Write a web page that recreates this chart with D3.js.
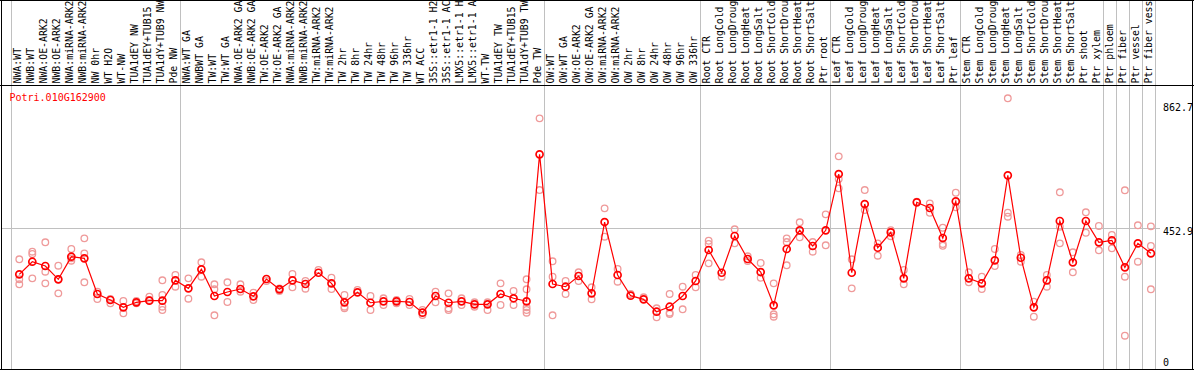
<!DOCTYPE html>
<html>
<head>
  <meta charset="utf-8">
  <title>Potri.010G162900</title>
  <script src="https://d3js.org/d3.v7.min.js"></script>
  <style>
    body { margin: 0; background: #fff; }
    text { font-family: "DejaVu Sans Mono", monospace; font-size: 10px; }
    text.lab { font-size: 9.85px; }
  </style>
</head>
<body>
<div id="vis"></div>
<script>
var gene = "Potri.010G162900";

// sample names as they show in the header (the long ones are cut there)
var samples = [
  "NWA:WT","NWB:WT","NWA:OE-ARK2","NWB:OE-ARK2","NWA:miRNA-ARK2","NWB:miRNA-ARK2","NW 0hr","WT H2O","WT-NW",
  "TUA1dEY NW","TUA1dEY+TUB15","TUA1dY+TUB9 NW","Pde NW",
  "NWA:WT GA","NWBWT GA","TW:WT","TW:WT GA","NWA:OE-ARK2 GA","NWB:OE-ARK2 GA","TW:OE-ARK2","TW:OE-ARK2 GA",
  "NWA:miRNA-ARK2","NWB:miRNA-ARK2","TW:miRNA-ARK2","TW:miRNA-ARK2","TW 2hr","TW 8hr","TW 24hr","TW 48hr",
  "TW 96hr","TW 336hr","WT ACC","35S::etr1-1 H2","35S::etr1-1 AC","LMX5::etr1-1 H","LMX5::etr1-1 A",
  "WT-TW","TUA1dEY TW","TUA1dEY+TUB15","TUA1dY+TUB9 TW","Pde TW",
  "OW:WT","OW:WT GA","OW:OE-ARK2","OW:OE-ARK2 GA","OW:miRNA-ARK2","OW:miRNA-ARK2","OW 2hr","OW 8hr","OW 24hr",
  "OW 48hr","OW 96hr","OW 336hr",
  "Root CTR","Root LongCold","Root LongDroug","Root LongHeat","Root LongSalt","Root ShortCold","Root ShortDrou",
  "Root ShortHeat","Root ShortSalt","Ptr root",
  "Leaf CTR","Leaf LongCold","Leaf LongDroug","Leaf LongHeat","Leaf LongSalt","Leaf ShortCold","Leaf ShortDrou",
  "Leaf ShortHeat","Leaf ShortSalt","Ptr leaf",
  "Stem CTR","Stem LongCold","Stem LongDroug","Stem LongHeat","Stem LongSalt","Stem ShortCold","Stem ShortDrou",
  "Stem ShortHeat","Stem ShortSalt","Ptr shoot","Ptr xylem",
  "Ptr phloem","Ptr fiber","Ptr vessel","Ptr fiber vess"
];

// index where each group of samples starts (last one = end)
var groupStarts = [0, 13, 41, 53, 63, 73, 84, 85, 86, 87, 88];

var means = [
  306.5,346.3,332.7,290.7,362.1,357.0,244.2,225.3,202.2,218.0,223.1,223.1,287.5,
  262.2,322.3,237.9,250.6,260.0,237.0,291.6,259.1,287.5,275.8,311.5,278.0,218.0,249.6,216.7,221.2,
  221.2,219.0,185.2,237.9,216.7,221.2,211.7,211.7,244.2,230.7,221.2,685.6,
  275.8,267.3,301.1,246.4,471.7,304.3,238.9,227.5,188.3,204.1,237.9,285.3,
  383.3,311.5,427.5,354.8,313.7,208.5,386.4,445.5,395.9,445.5,
  623.4,311.5,528.6,390.5,439.2,293.8,534.0,516.0,421.2,537.1,
  293.8,278.0,350.7,619.3,358.9,202.2,287.5,474.9,344.4,474.9,407.6,
  413.9,328.6,404.4,372.8
];

var reps = [
  [353.9,290.7,274.9],[377.9,370.6,293.8],[407.6,314.7,278.0],[333.7,290.7,246.4],[386.4,357.0,349.5],
  [420.2,372.8,281.2],[251.5,228.4],[228.4,214.9],[222.1,183.3],[222.1,214.9],[235.7,225.3],
  [287.5,241.1,204.1,193.7],[304.3,267.3],
  [293.8,229.4],[344.4,298.9],[274.9,259.1,176.9],[281.2,219.0],[274.9,251.5],[248.3,225.3],[285.3],
  [262.2,253.7],[307.4,265.4],[285.3,261.0],[320.1],[295.7,260.0],[241.1,204.1,199.1],[256.9],
  [237.9,193.7],[230.7,209.5],[225.3,214.9],[228.4,209.5],[193.7,177.9],[251.5,218.0],
  [246.4,199.1,193.7],[230.7,209.5],[218.0,204.1],[218.0,193.7],[278.0,209.5],[253.7,209.5],
  [290.7,259.1,202.2,193.7,185.2],[799.4,572.8],
  [347.6,298.9,176.9],[285.3,244.2],[312.8,285.3],[265.4,227.5],[515.0,425.3],[323.2,283.1],[244.2],
  [233.8],[199.1,170.6],[244.2,185.2,181.0],[267.3,195.9],[304.3,265.4],
  [412.6,402.2,341.2],[298.9],[448.7,404.4],[363.4,348.5],[342.2,295.7],[278.0,180.1,172.5],
  [420.2,408.5,334.9],[470.8,423.4],[408.5,377.9],[496.0,398.1],
  [679.3,607.6,578.2],[353.9,262.2],[572.8,509.6],[404.4,365.3],[446.0,427.0],[320.1,274.9],[535.9],
  [530.8,501.1],[453.7,402.2,396.8],[564.3,518.2],
  [312.8,281.2],[298.9,260.0],[386.4,332.7],[862.7,501.1,488.5],[367.5,346.3],[219.9,172.5],
  [304.3,267.3],[565.6,456.9,404.4],[376.0,312.8],[502.4,437.9],[459.1,382.3],
  [430.7,388.6],[571.9,298.9,112.5],[461.3,346.3],[458.1,395.9,259.1]
];

var yTicks = [0, 452.9, 862.7];
var gridValue = 452.9;

var W = 1194, H = 370;
var headerH = 85;

var svg = d3.select("#vis").append("svg")
  .attr("width", W)
  .attr("height", H);

var x = d3.scaleBand()
  .domain(d3.range(samples.length))
  .range([10.7, 1155.3])
  .padding(0);

var y = d3.scaleLinear()
  .domain([0, 862.7])
  .range([371.3, 98.3]);

// gray grid
svg.append("line")
  .attr("x1", 1).attr("x2", 1160)
  .attr("y1", Math.round(y(gridValue)) + 0.5).attr("y2", Math.round(y(gridValue)) + 0.5)
  .attr("stroke", "#c0c0c0").attr("shape-rendering", "crispEdges");

svg.selectAll("line.vgrid").data(groupStarts).enter().append("line")
  .attr("class", "vgrid")
  .attr("x1", function(d) { return Math.round(d < samples.length ? x(d) : x.range()[1]) + 0.5; })
  .attr("x2", function(d) { return Math.round(d < samples.length ? x(d) : x.range()[1]) + 0.5; })
  .attr("y1", 0).attr("y2", H)
  .attr("stroke", "#c0c0c0").attr("shape-rendering", "crispEdges");

// frame
var frame = [
  [0, 0.5, W, 0.5], [0, headerH + 0.5, W, headerH + 0.5], [0, 369.5, W, 369.5],
  [1.5, 0, 1.5, H], [1192.5, 0, 1192.5, H]
];
svg.selectAll("line.frame").data(frame).enter().append("line")
  .attr("class", "frame")
  .attr("x1", function(d) { return d[0]; }).attr("y1", function(d) { return d[1]; })
  .attr("x2", function(d) { return d[2]; }).attr("y2", function(d) { return d[3]; })
  .attr("stroke", "#000").attr("shape-rendering", "crispEdges");

// sample labels (rotated)
svg.selectAll("text.lab").data(samples).enter().append("text")
  .attr("class", "lab")
  .attr("transform", function(d, i) { return "translate(" + (x(i) + 10) + "," + (headerH - 1.5) + ") rotate(-90)"; })
  .attr("fill", "#000")
  .text(function(d) { return d; });

// gene name
svg.append("text")
  .attr("x", 9.5).attr("y", 101)
  .attr("fill", "#ff0000")
  .text(gene);

// right axis labels
svg.selectAll("text.tick").data(yTicks).enter().append("text")
  .attr("class", "tick")
  .attr("x", 1163)
  .attr("y", function(d) { return Math.max(103, Math.min(358, y(d))) + 7.5; })
  .attr("fill", "#000")
  .text(function(d) { return d; });

var px = function(i) { return x(i) + 8.6; };

// replicate points
var repPts = [];
reps.forEach(function(r, i) { r.forEach(function(v) { repPts.push({i: i, v: v}); }); });

svg.selectAll("circle.rep").data(repPts).enter().append("circle")
  .attr("class", "rep")
  .attr("cx", function(d) { return px(d.i); })
  .attr("cy", function(d) { return y(d.v); })
  .attr("r", 3.3)
  .attr("fill", "none")
  .attr("stroke", "#ef9a9a")
  .attr("stroke-width", 1.3);

// mean line
var line = d3.line()
  .x(function(d, i) { return px(i); })
  .y(function(d) { return y(d); });

svg.append("path")
  .datum(means)
  .attr("d", line)
  .attr("fill", "none")
  .attr("stroke", "#ff0000")
  .attr("stroke-width", 1.2);

svg.selectAll("circle.mean").data(means).enter().append("circle")
  .attr("class", "mean")
  .attr("cx", function(d, i) { return px(i); })
  .attr("cy", function(d) { return y(d); })
  .attr("r", 3.5)
  .attr("fill", "none")
  .attr("stroke", "#ff0000")
  .attr("stroke-width", 1.7);
</script>
</body>
</html>
